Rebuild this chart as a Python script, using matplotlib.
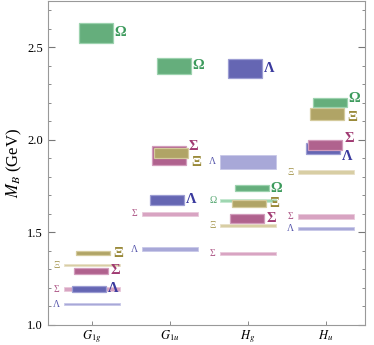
import matplotlib
matplotlib.use("Agg")
import matplotlib.pyplot as plt
from matplotlib.patches import Rectangle
from matplotlib.ticker import MultipleLocator

plt.rcParams['font.family'] = ['Liberation Serif', 'DejaVu Serif']
plt.rcParams['mathtext.fontset'] = 'stix'

irreps = ["$G_{1g}$", "$G_{1u}$", "$H_g$", "$H_u$"]

# lattice boxes: (irrep index, baryon, low, high)
box_irrep = [0, 0, 0, 0, 1, 1, 1, 1, 2, 2, 2, 2, 3, 3, 3, 3]
box_name = ["Λ", "Σ", "Ξ", "Ω", "Λ", "Σ", "Ξ", "Ω", "Λ", "Σ", "Ξ", "Ω", "Λ", "Σ", "Ξ", "Ω"]
box_low = [1.180, 1.278, 1.376, 2.525, 1.650, 1.866, 1.902, 2.356,
           2.335, 1.549, 1.638, 1.724, 1.926, 1.944, 2.110, 2.180]
box_high = [1.210, 1.306, 1.399, 2.633, 1.704, 1.967, 1.956, 2.443,
            2.438, 1.597, 1.674, 1.755, 1.985, 1.998, 2.172, 2.225]

# light reference bands
ref_irrep = [0, 0, 0, 1, 1, 2, 2, 2, 2, 3, 3, 3]
ref_name = ["Λ", "Σ", "Ξ", "Λ", "Σ", "Λ", "Σ", "Ξ", "Ω", "Λ", "Σ", "Ξ"]
ref_low = [1.106, 1.185, 1.316, 1.397, 1.590, 1.844, 1.376, 1.529, 1.665, 1.512, 1.573, 1.813]
ref_high = [1.120, 1.203, 1.330, 1.419, 1.611, 1.920, 1.394, 1.547, 1.680, 1.530, 1.597, 1.836]

box_col = {"Λ": "#6566b3", "Σ": "#b0628e", "Ξ": "#b0a466", "Ω": "#65ae7c"}
edge_col = {"Λ": "#9c9dd3", "Σ": "#d29cbc", "Ξ": "#d4ca9c", "Ω": "#9cd2ae"}
light_col = {"Λ": "#a8a8d8", "Σ": "#d8a4c2", "Ξ": "#d8cea4", "Ω": "#9ed6b0"}
light_edge = {"Λ": "#c8c8e8", "Σ": "#e8c8da", "Ξ": "#e8e0c8", "Ω": "#c4e8d0"}
text_col = {"Λ": "#3a3a9e", "Σ": "#a03a72", "Ξ": "#9a8a3a", "Ω": "#3c9a5c"}
x_shift = {"Λ": -0.26, "Σ": -0.23, "Ξ": -0.20, "Ω": -0.17}
order = {"Λ": 0, "Σ": 1, "Ξ": 2, "Ω": 3}

# label nudges where labels would collide (irrep, name) -> dy
nudge = {(1, "Σ"): 0.05, (1, "Ξ"): -0.05, (3, "Ω"): 0.02, (3, "Ξ"): -0.02,
         (3, "Σ"): 0.035, (3, "Λ"): -0.045}

fig = plt.figure(figsize=(3.74, 3.45), dpi=100)
ax = fig.add_axes([0.128, 0.058, 0.848, 0.939])

for i in range(len(ref_irrep)):
    x0 = ref_irrep[i] + 1 - 0.36
    ax.add_patch(Rectangle((x0, ref_low[i]), 0.72, ref_high[i] - ref_low[i],
                           facecolor=light_col[ref_name[i]], edgecolor=light_edge[ref_name[i]],
                           linewidth=0.6, zorder=2))
    ax.text(ref_irrep[i] + 1 - 0.45, (ref_low[i] + ref_high[i]) / 2, ref_name[i],
            color=text_col[ref_name[i]], fontsize=7, ha="center", va="center", alpha=0.85)

idx = sorted(range(len(box_irrep)), key=lambda k: (box_irrep[k], order[box_name[k]]))
for i in idx:
    n = box_name[i]
    x0 = box_irrep[i] + 1 + x_shift[n]
    ax.add_patch(Rectangle((x0, box_low[i]), 0.435, box_high[i] - box_low[i],
                           facecolor=box_col[n], edgecolor=edge_col[n], linewidth=0.9,
                           zorder=3 + order[n] * 0.1))
    ym = (box_low[i] + box_high[i]) / 2 + nudge.get((box_irrep[i], n), 0)
    ax.text(x0 + 0.435 + 0.1, ym, n, color=text_col[n], fontsize=10.5,
            fontweight="bold", ha="center", va="center", zorder=5)

ax.set_xlim(0.436, 4.5)
ax.set_ylim(1.0, 2.75)
ax.set_xticks([1, 2, 3, 4])
ax.set_xticklabels(irreps, fontsize=9)
ax.yaxis.set_major_locator(MultipleLocator(0.5))
ax.yaxis.set_minor_locator(MultipleLocator(0.1))
ax.set_yticks([1.0, 1.5, 2.0, 2.5])
ax.set_yticklabels(["1.0", "1.5", "2.0", "2.5"], fontsize=9)
ax.set_ylabel("$M_B$ (GeV)", fontsize=12, labelpad=2)
ax.tick_params(axis="y", which="major", direction="in", length=5, right=True,
               color="#777777", width=0.8)
ax.tick_params(axis="y", which="minor", direction="in", length=2.5, right=True,
               color="#777777", width=0.6)
ax.tick_params(axis="x", direction="in", length=3, color="#777777", width=0.6, pad=2.5)
for s in ax.spines.values():
    s.set_color("#999999")
    s.set_linewidth(0.8)

fig.savefig("out.png", dpi=100)
